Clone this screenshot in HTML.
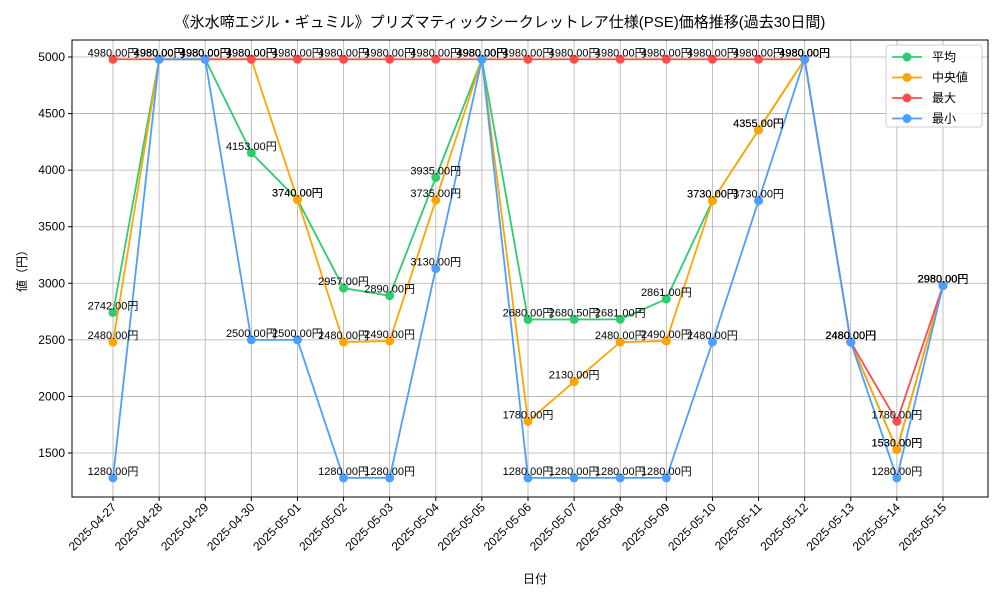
<!DOCTYPE html>
<html><head><meta charset="utf-8"><style>
body{margin:0;background:#fff}
svg{font-family:"Liberation Sans","Noto Sans CJK JP",sans-serif}
</style></head><body>
<svg id="c" width="1000" height="600" xmlns="http://www.w3.org/2000/svg">
<rect width="1000" height="600" fill="#fff"/>
<text x="500" y="27" text-anchor="middle" font-size="15">《氷水啼エジル・ギュミル》プリズマティックシークレットレア仕様(PSE)価格推移(過去30日間)</text>
<text x="535" y="583" text-anchor="middle" font-size="12">日付</text>
<text transform="translate(26,268) rotate(-90)" text-anchor="middle" font-size="12">値（円）</text>
<g id="grid"></g><g id="series"></g><g id="labels"></g>
<rect x="72" y="40" width="916" height="457" fill="none" stroke="#000" stroke-width="1"/>
<g>
<rect x="886" y="45" width="96" height="82" rx="3" fill="#fff" fill-opacity="0.85" stroke="#ccc"/>
<g id="legend"></g>
</g>
</svg>
<script>
const dates=["2025-04-27","2025-04-28","2025-04-29","2025-04-30","2025-05-01","2025-05-02","2025-05-03","2025-05-04","2025-05-05","2025-05-06","2025-05-07","2025-05-08","2025-05-09","2025-05-10","2025-05-11","2025-05-12","2025-05-13","2025-05-14","2025-05-15"];
const avgVals=[2742,4980,4980,4153,3740,2957,2890,3935,4980,2680,2680.5,2681,2861,3730,4355,4980,2480,1530,2980];
const medVals=[2480,4980,4980,4980,3740,2480,2490,3735,4980,1780,2130,2480,2490,3730,4355,4980,2480,1530,2980];
const maxVals=[4980,4980,4980,4980,4980,4980,4980,4980,4980,4980,4980,4980,4980,4980,4980,4980,2480,1780,2980];
const minVals=[1280,4980,4980,2500,2500,1280,1280,3130,4980,1280,1280,1280,1280,2480,3730,4980,2480,1280,2980];
const yTicks=[1500,2000,2500,3000,3500,4000,4500,5000];
const seriesNames=["平均","中央値","最大","最小"];
const NS="http://www.w3.org/2000/svg";
const X=i=>113+i*(830/(dates.length-1));
const Y=v=>453-(v-1500)*(396/3500);
function mk(tag,attrs,parent){const e=document.createElementNS(NS,tag);for(const k in attrs)e.setAttribute(k,attrs[k]);parent.appendChild(e);return e;}
const grid=document.getElementById('grid'),ser=document.getElementById('series'),lab=document.getElementById('labels'),leg=document.getElementById('legend');
yTicks.forEach(t=>{
 const l=mk('line',{x1:72,x2:988,y1:Y(t),y2:Y(t),stroke:'#b0b0b0','stroke-width':0.8},grid);
 
 
 mk('line',{x1:68,x2:72,y1:Y(t),y2:Y(t),stroke:'#000'},grid);
 const tx=mk('text',{x:65,y:Y(t)+4,'text-anchor':'end','font-size':12},grid);tx.textContent=t;
 
 
});
dates.forEach((d,i)=>{
 const l=mk('line',{x1:X(i),x2:X(i),y1:40,y2:497,stroke:'#b0b0b0','stroke-width':0.8},grid);
 
 
 mk('line',{x1:X(i),x2:X(i),y1:497,y2:501,stroke:'#000'},grid);
 const tx=mk('text',{transform:`translate(${X(i)+4},${508}) rotate(-45)`,'text-anchor':'end','font-size':12},grid);tx.textContent=d;
 
 
});
const all=[[avgVals,'#2ecc71','avg'],[medVals,'#ffa500','median'],[maxVals,'#ff4d4d','max'],[minVals,'#4d9fff','min']];
all.forEach(([vals,col,nm],si)=>{
 const p=mk('polyline',{points:vals.map((v,i)=>X(i)+','+Y(v)).join(' '),fill:'none',stroke:col,'stroke-width':1.8},ser);
 
 
 vals.forEach((v,i)=>{
  const c=mk('circle',{cx:X(i),cy:Y(v),r:4.5,fill:col},ser);
  
  
  const t=mk('text',{x:X(i),y:Y(v)-3,'text-anchor':'middle','font-size':11},lab);
  t.textContent=v.toFixed(2)+'円';
  
  
 });
 const ly=57+si*20.5;
 mk('line',{x1:892,x2:922,y1:ly,y2:ly,stroke:col,'stroke-width':1.8},leg);
 mk('circle',{cx:907,cy:ly,r:4.5,fill:col},leg);
 const t=mk('text',{x:932,y:ly+4,'font-size':12},leg);t.textContent=seriesNames[si];
 
 
});
</script>
</body></html>
